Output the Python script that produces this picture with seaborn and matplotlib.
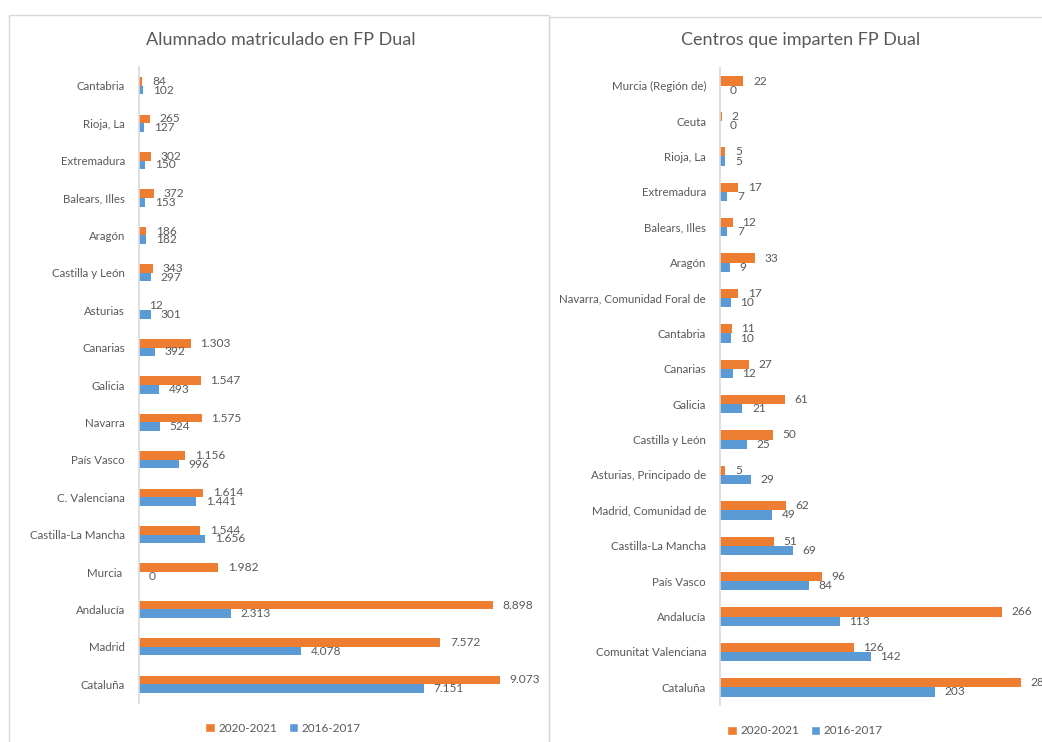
import pandas as pd
import matplotlib
matplotlib.use("Agg")
import matplotlib.pyplot as plt
from matplotlib.patches import Patch, Rectangle
import seaborn as sns

# Alumnado matriculado en FP Dual
regiones_alumnado = [
    "Cantabria", "Rioja, La", "Extremadura", "Balears, Illes", "Aragón",
    "Castilla y León", "Asturias", "Canarias", "Galicia", "Navarra",
    "País Vasco", "C. Valenciana", "Castilla-La Mancha", "Murcia ",
    "Andalucía", "Madrid", "Cataluña",
]
alumnado_2021 = [84, 265, 302, 372, 186, 343, 12, 1303, 1547, 1575,
                 1156, 1614, 1544, 1982, 8898, 7572, 9073]
alumnado_2017 = [102, 127, 150, 153, 182, 297, 301, 392, 493, 524,
                 996, 1441, 1656, 0, 2313, 4078, 7151]

# Centros que imparten FP Dual
regiones_centros = [
    "Murcia (Región de)", "Ceuta", "Rioja, La", "Extremadura", "Balears, Illes",
    "Aragón", "Navarra, Comunidad Foral de", "Cantabria", "Canarias", "Galicia",
    "Castilla y León", "Asturias, Principado de", "Madrid, Comunidad de",
    "Castilla-La Mancha", "País Vasco", "Andalucía", "Comunitat Valenciana",
    "Cataluña",
]
centros_2021 = [22, 2, 5, 17, 12, 33, 17, 11, 27, 61, 50, 5, 62, 51, 96, 266, 126, 284]
centros_2017 = [0, 0, 5, 7, 7, 9, 10, 10, 12, 21, 25, 29, 49, 69, 84, 113, 142, 203]

periodos = ["2020-2021", "2016-2017"]
colores = {"2020-2021": "#ED7D31", "2016-2017": "#5B9BD5"}
GRIS = "#595959"


def long_df(regiones, v_new, v_old):
    rows = []
    for r, a, b in zip(regiones, v_new, v_old):
        rows.append({"region": r, "periodo": periodos[0], "valor": a})
        rows.append({"region": r, "periodo": periodos[1], "valor": b})
    return pd.DataFrame(rows)


def fmt(v):
    return f"{v:,}".replace(",", ".")


def draw(ax, df, regiones, xmax, width):
    sns.barplot(
        data=df, y="region", x="valor", hue="periodo", order=regiones,
        hue_order=periodos, palette=colores, orient="h", width=width,
        ax=ax, legend=False, saturation=1, edgecolor="none",
    )
    for cont, per in zip(ax.containers, periodos):
        vals = df[df["periodo"] == per].set_index("region").loc[regiones, "valor"]
        ax.bar_label(cont, labels=[fmt(v) for v in vals], padding=7,
                     fontsize=8.6, color=GRIS, clip_on=False)
    ax.set_xlim(0, xmax)
    ax.set_ylim(len(regiones) - 0.5, -0.5)
    ax.set_xlabel("")
    ax.set_ylabel("")
    ax.set_xticks([])
    ax.tick_params(axis="y", length=0, pad=10, labelsize=8.3, labelcolor=GRIS)
    for s in ["top", "right", "bottom"]:
        ax.spines[s].set_visible(False)
    ax.spines["left"].set_color("#D9D9D9")
    ax.spines["left"].set_linewidth(1.2)


sns.set_style("white")
plt.rcParams["font.family"] = ["Lato", "DejaVu Sans"]

W, H = 1042, 742
fig = plt.figure(figsize=(W / 100, H / 100), dpi=100)

# panel borders
fig.add_artist(Rectangle((9 / W, -0.01), 540 / W, 1 - 15 / H + 0.01,
                         transform=fig.transFigure, fill=False,
                         edgecolor="#D9D9D9", linewidth=1))
fig.add_artist(Rectangle((549 / W, -0.01), 500 / W, 1 - 17 / H + 0.01,
                         transform=fig.transFigure, fill=False,
                         edgecolor="#D9D9D9", linewidth=1))

ax1 = fig.add_axes([139 / W, (H - 703) / H, 398 / W, 636 / H])
draw(ax1, long_df(regiones_alumnado, alumnado_2021, alumnado_2017),
     regiones_alumnado, 10000, 0.46)

ax2 = fig.add_axes([720 / W, (H - 705) / H, 318 / W, 637 / H])
draw(ax2, long_df(regiones_centros, centros_2021, centros_2017),
     regiones_centros, 300, 0.52)

fig.text(281 / W, 1 - 40 / H, "Alumnado matriculado en FP Dual",
         ha="center", va="center", fontsize=13, color=GRIS)
fig.text(801 / W, 1 - 40 / H, "Centros que imparten FP Dual",
         ha="center", va="center", fontsize=13, color=GRIS)

handles = [Patch(facecolor=colores[p], label=p) for p in periodos]
for cx, cy in [(283, 728), (805, 731)]:
    fig.legend(handles=handles, loc="center", bbox_to_anchor=(cx / W, 1 - cy / H),
               ncol=2, frameon=False, fontsize=8.5, labelcolor=GRIS,
               handlelength=0.8, handleheight=0.9, handletextpad=0.3,
               columnspacing=1.0)

fig.savefig("out.png", dpi=100)
